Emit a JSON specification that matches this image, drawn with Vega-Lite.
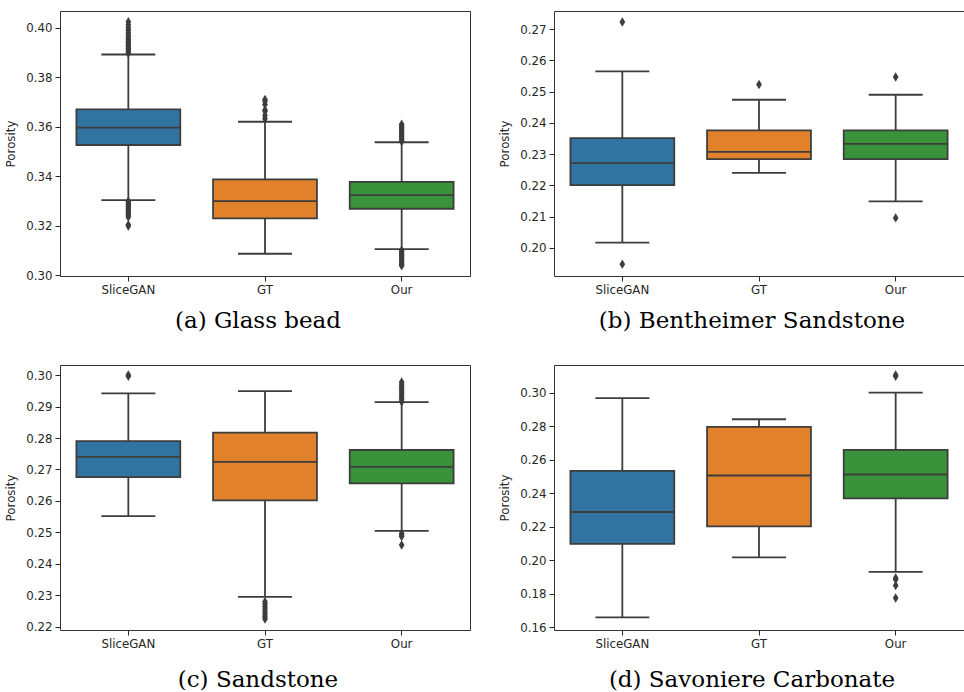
{
  "$schema": "https://vega.github.io/schema/vega-lite/v6.json",
  "padding": {"left": 5, "top": 10, "right": 0, "bottom": 0},
  "background": "white",
  "bounds": "flush",
  "columns": 2,
  "spacing": {"row": 89, "column": 84},
  "datasets": {
    "stats": [
      {"panel": "a", "method": "SliceGAN", "lower": 0.3303, "q1": 0.3526, "median": 0.3596, "q3": 0.3670, "upper": 0.3892},
      {"panel": "a", "method": "GT", "lower": 0.3086, "q1": 0.3229, "median": 0.3299, "q3": 0.3387, "upper": 0.3620},
      {"panel": "a", "method": "Our", "lower": 0.3105, "q1": 0.3268, "median": 0.3323, "q3": 0.3377, "upper": 0.3537},
      {"panel": "b", "method": "SliceGAN", "lower": 0.2017, "q1": 0.2201, "median": 0.2271, "q3": 0.2351, "upper": 0.2565},
      {"panel": "b", "method": "GT", "lower": 0.2240, "q1": 0.2284, "median": 0.2307, "q3": 0.2376, "upper": 0.2474},
      {"panel": "b", "method": "Our", "lower": 0.2149, "q1": 0.2284, "median": 0.2333, "q3": 0.2376, "upper": 0.2490},
      {"panel": "c", "method": "SliceGAN", "lower": 0.2552, "q1": 0.2676, "median": 0.2740, "q3": 0.2790, "upper": 0.2942},
      {"panel": "c", "method": "GT", "lower": 0.2295, "q1": 0.2602, "median": 0.2724, "q3": 0.2817, "upper": 0.2949},
      {"panel": "c", "method": "Our", "lower": 0.2505, "q1": 0.2656, "median": 0.2708, "q3": 0.2762, "upper": 0.2914},
      {"panel": "d", "method": "SliceGAN", "lower": 0.1660, "q1": 0.2099, "median": 0.2289, "q3": 0.2535, "upper": 0.2969},
      {"panel": "d", "method": "GT", "lower": 0.2018, "q1": 0.2203, "median": 0.2507, "q3": 0.2797, "upper": 0.2843},
      {"panel": "d", "method": "Our", "lower": 0.1931, "q1": 0.2370, "median": 0.2513, "q3": 0.2660, "upper": 0.3002}
    ],
    "out": [
      {"panel": "a", "method": "SliceGAN", "value": 0.3897},
      {"panel": "a", "method": "SliceGAN", "value": 0.3903},
      {"panel": "a", "method": "SliceGAN", "value": 0.3910},
      {"panel": "a", "method": "SliceGAN", "value": 0.3917},
      {"panel": "a", "method": "SliceGAN", "value": 0.3924},
      {"panel": "a", "method": "SliceGAN", "value": 0.3930},
      {"panel": "a", "method": "SliceGAN", "value": 0.3938},
      {"panel": "a", "method": "SliceGAN", "value": 0.3945},
      {"panel": "a", "method": "SliceGAN", "value": 0.3953},
      {"panel": "a", "method": "SliceGAN", "value": 0.3960},
      {"panel": "a", "method": "SliceGAN", "value": 0.3970},
      {"panel": "a", "method": "SliceGAN", "value": 0.3980},
      {"panel": "a", "method": "SliceGAN", "value": 0.3990},
      {"panel": "a", "method": "SliceGAN", "value": 0.4000},
      {"panel": "a", "method": "SliceGAN", "value": 0.4012},
      {"panel": "a", "method": "SliceGAN", "value": 0.4025},
      {"panel": "a", "method": "SliceGAN", "value": 0.3298},
      {"panel": "a", "method": "SliceGAN", "value": 0.3291},
      {"panel": "a", "method": "SliceGAN", "value": 0.3284},
      {"panel": "a", "method": "SliceGAN", "value": 0.3277},
      {"panel": "a", "method": "SliceGAN", "value": 0.3270},
      {"panel": "a", "method": "SliceGAN", "value": 0.3263},
      {"panel": "a", "method": "SliceGAN", "value": 0.3256},
      {"panel": "a", "method": "SliceGAN", "value": 0.3249},
      {"panel": "a", "method": "SliceGAN", "value": 0.3242},
      {"panel": "a", "method": "SliceGAN", "value": 0.3235},
      {"panel": "a", "method": "SliceGAN", "value": 0.3203},
      {"panel": "a", "method": "SliceGAN", "value": 0.3198},
      {"panel": "a", "method": "GT", "value": 0.3710},
      {"panel": "a", "method": "GT", "value": 0.3703},
      {"panel": "a", "method": "GT", "value": 0.3690},
      {"panel": "a", "method": "GT", "value": 0.3668},
      {"panel": "a", "method": "GT", "value": 0.3662},
      {"panel": "a", "method": "GT", "value": 0.3645},
      {"panel": "a", "method": "GT", "value": 0.3632},
      {"panel": "a", "method": "Our", "value": 0.3540},
      {"panel": "a", "method": "Our", "value": 0.3547},
      {"panel": "a", "method": "Our", "value": 0.3554},
      {"panel": "a", "method": "Our", "value": 0.3561},
      {"panel": "a", "method": "Our", "value": 0.3568},
      {"panel": "a", "method": "Our", "value": 0.3575},
      {"panel": "a", "method": "Our", "value": 0.3582},
      {"panel": "a", "method": "Our", "value": 0.3589},
      {"panel": "a", "method": "Our", "value": 0.3596},
      {"panel": "a", "method": "Our", "value": 0.3603},
      {"panel": "a", "method": "Our", "value": 0.3610},
      {"panel": "a", "method": "Our", "value": 0.3100},
      {"panel": "a", "method": "Our", "value": 0.3093},
      {"panel": "a", "method": "Our", "value": 0.3086},
      {"panel": "a", "method": "Our", "value": 0.3079},
      {"panel": "a", "method": "Our", "value": 0.3072},
      {"panel": "a", "method": "Our", "value": 0.3065},
      {"panel": "a", "method": "Our", "value": 0.3058},
      {"panel": "a", "method": "Our", "value": 0.3051},
      {"panel": "a", "method": "Our", "value": 0.3044},
      {"panel": "a", "method": "Our", "value": 0.3037},
      {"panel": "b", "method": "SliceGAN", "value": 0.2723},
      {"panel": "b", "method": "SliceGAN", "value": 0.1948},
      {"panel": "b", "method": "GT", "value": 0.2523},
      {"panel": "b", "method": "Our", "value": 0.2547},
      {"panel": "b", "method": "Our", "value": 0.2096},
      {"panel": "c", "method": "SliceGAN", "value": 0.2996},
      {"panel": "c", "method": "SliceGAN", "value": 0.3000},
      {"panel": "c", "method": "GT", "value": 0.2280},
      {"panel": "c", "method": "GT", "value": 0.2272},
      {"panel": "c", "method": "GT", "value": 0.2264},
      {"panel": "c", "method": "GT", "value": 0.2256},
      {"panel": "c", "method": "GT", "value": 0.2248},
      {"panel": "c", "method": "GT", "value": 0.2240},
      {"panel": "c", "method": "GT", "value": 0.2232},
      {"panel": "c", "method": "GT", "value": 0.2225},
      {"panel": "c", "method": "Our", "value": 0.2915},
      {"panel": "c", "method": "Our", "value": 0.2922},
      {"panel": "c", "method": "Our", "value": 0.2929},
      {"panel": "c", "method": "Our", "value": 0.2936},
      {"panel": "c", "method": "Our", "value": 0.2943},
      {"panel": "c", "method": "Our", "value": 0.2950},
      {"panel": "c", "method": "Our", "value": 0.2957},
      {"panel": "c", "method": "Our", "value": 0.2964},
      {"panel": "c", "method": "Our", "value": 0.2971},
      {"panel": "c", "method": "Our", "value": 0.2978},
      {"panel": "c", "method": "Our", "value": 0.2497},
      {"panel": "c", "method": "Our", "value": 0.2492},
      {"panel": "c", "method": "Our", "value": 0.2487},
      {"panel": "c", "method": "Our", "value": 0.2460},
      {"panel": "d", "method": "Our", "value": 0.3100},
      {"panel": "d", "method": "Our", "value": 0.3108},
      {"panel": "d", "method": "Our", "value": 0.1895},
      {"panel": "d", "method": "Our", "value": 0.1885},
      {"panel": "d", "method": "Our", "value": 0.1850},
      {"panel": "d", "method": "Our", "value": 0.1775}
    ]
  },
  "concat": [
    {
      "width": 410, "height": 265,
      "title": {"text": "(a) Glass bead"},
      "encoding": {
        "x": {"field": "method", "type": "nominal", "sort": ["SliceGAN", "GT", "Our"], "scale": {"paddingInner": 0, "paddingOuter": 0}, "axis": {"title": null, "labelAngle": 0}},
        "y": {"type": "quantitative", "scale": {"domain": [0.2996, 0.4068], "nice": false, "zero": false}, "axis": {"title": "Porosity", "values": [0.30, 0.32, 0.34, 0.36, 0.38, 0.40], "format": ".2f"}}
      },
      "layer": [
        {"data": {"name": "stats"}, "transform": [{"filter": "datum.panel == 'a'"}], "mark": {"type": "rule", "color": "#3d3d3d", "strokeWidth": 1.8}, "encoding": {"y": {"field": "lower"}, "y2": {"field": "upper"}}},
        {"data": {"name": "stats"}, "transform": [{"filter": "datum.panel == 'a'"}], "mark": {"type": "bar", "stroke": "#3d3d3d", "strokeWidth": 1.8, "width": {"band": 0.76}}, "encoding": {"y": {"field": "q1"}, "y2": {"field": "q3"}, "fill": {"field": "method", "type": "nominal", "scale": {"domain": ["SliceGAN", "GT", "Our"], "range": ["#3274a1", "#e1812c", "#3a923a"]}, "legend": null}}},
        {"data": {"name": "stats"}, "transform": [{"filter": "datum.panel == 'a'"}], "mark": {"type": "tick", "color": "#3d3d3d", "size": 104, "thickness": 1.8, "opacity": 1}, "encoding": {"y": {"field": "median"}}},
        {"data": {"name": "stats"}, "transform": [{"filter": "datum.panel == 'a'"}], "mark": {"type": "tick", "color": "#3d3d3d", "size": 54, "thickness": 1.8, "opacity": 1}, "encoding": {"y": {"field": "lower"}}},
        {"data": {"name": "stats"}, "transform": [{"filter": "datum.panel == 'a'"}], "mark": {"type": "tick", "color": "#3d3d3d", "size": 54, "thickness": 1.8, "opacity": 1}, "encoding": {"y": {"field": "upper"}}},
        {"data": {"name": "out"}, "transform": [{"filter": "datum.panel == 'a'"}], "mark": {"type": "point", "shape": "M0,-1L0.6,0L0,1L-0.6,0Z", "filled": true, "color": "#3d3d3d", "size": 90, "opacity": 1}, "encoding": {"y": {"field": "value"}}}
      ]
    },
    {
      "width": 410, "height": 265,
      "title": {"text": "(b) Bentheimer Sandstone"},
      "encoding": {
        "x": {"field": "method", "type": "nominal", "sort": ["SliceGAN", "GT", "Our"], "scale": {"paddingInner": 0, "paddingOuter": 0}, "axis": {"title": null, "labelAngle": 0}},
        "y": {"type": "quantitative", "scale": {"domain": [0.1910, 0.2758], "nice": false, "zero": false}, "axis": {"title": "Porosity", "values": [0.20, 0.21, 0.22, 0.23, 0.24, 0.25, 0.26, 0.27], "format": ".2f"}}
      },
      "layer": [
        {"data": {"name": "stats"}, "transform": [{"filter": "datum.panel == 'b'"}], "mark": {"type": "rule", "color": "#3d3d3d", "strokeWidth": 1.8}, "encoding": {"y": {"field": "lower"}, "y2": {"field": "upper"}}},
        {"data": {"name": "stats"}, "transform": [{"filter": "datum.panel == 'b'"}], "mark": {"type": "bar", "stroke": "#3d3d3d", "strokeWidth": 1.8, "width": {"band": 0.76}}, "encoding": {"y": {"field": "q1"}, "y2": {"field": "q3"}, "fill": {"field": "method", "type": "nominal", "scale": {"domain": ["SliceGAN", "GT", "Our"], "range": ["#3274a1", "#e1812c", "#3a923a"]}, "legend": null}}},
        {"data": {"name": "stats"}, "transform": [{"filter": "datum.panel == 'b'"}], "mark": {"type": "tick", "color": "#3d3d3d", "size": 104, "thickness": 1.8, "opacity": 1}, "encoding": {"y": {"field": "median"}}},
        {"data": {"name": "stats"}, "transform": [{"filter": "datum.panel == 'b'"}], "mark": {"type": "tick", "color": "#3d3d3d", "size": 54, "thickness": 1.8, "opacity": 1}, "encoding": {"y": {"field": "lower"}}},
        {"data": {"name": "stats"}, "transform": [{"filter": "datum.panel == 'b'"}], "mark": {"type": "tick", "color": "#3d3d3d", "size": 54, "thickness": 1.8, "opacity": 1}, "encoding": {"y": {"field": "upper"}}},
        {"data": {"name": "out"}, "transform": [{"filter": "datum.panel == 'b'"}], "mark": {"type": "point", "shape": "M0,-1L0.6,0L0,1L-0.6,0Z", "filled": true, "color": "#3d3d3d", "size": 90, "opacity": 1}, "encoding": {"y": {"field": "value"}}}
      ]
    },
    {
      "width": 410, "height": 265,
      "title": {"text": "(c) Sandstone", "offset": 19},
      "encoding": {
        "x": {"field": "method", "type": "nominal", "sort": ["SliceGAN", "GT", "Our"], "scale": {"paddingInner": 0, "paddingOuter": 0}, "axis": {"title": null, "labelAngle": 0}},
        "y": {"type": "quantitative", "scale": {"domain": [0.2190, 0.3032], "nice": false, "zero": false}, "axis": {"title": "Porosity", "values": [0.22, 0.23, 0.24, 0.25, 0.26, 0.27, 0.28, 0.29, 0.30], "format": ".2f"}}
      },
      "layer": [
        {"data": {"name": "stats"}, "transform": [{"filter": "datum.panel == 'c'"}], "mark": {"type": "rule", "color": "#3d3d3d", "strokeWidth": 1.8}, "encoding": {"y": {"field": "lower"}, "y2": {"field": "upper"}}},
        {"data": {"name": "stats"}, "transform": [{"filter": "datum.panel == 'c'"}], "mark": {"type": "bar", "stroke": "#3d3d3d", "strokeWidth": 1.8, "width": {"band": 0.76}}, "encoding": {"y": {"field": "q1"}, "y2": {"field": "q3"}, "fill": {"field": "method", "type": "nominal", "scale": {"domain": ["SliceGAN", "GT", "Our"], "range": ["#3274a1", "#e1812c", "#3a923a"]}, "legend": null}}},
        {"data": {"name": "stats"}, "transform": [{"filter": "datum.panel == 'c'"}], "mark": {"type": "tick", "color": "#3d3d3d", "size": 104, "thickness": 1.8, "opacity": 1}, "encoding": {"y": {"field": "median"}}},
        {"data": {"name": "stats"}, "transform": [{"filter": "datum.panel == 'c'"}], "mark": {"type": "tick", "color": "#3d3d3d", "size": 54, "thickness": 1.8, "opacity": 1}, "encoding": {"y": {"field": "lower"}}},
        {"data": {"name": "stats"}, "transform": [{"filter": "datum.panel == 'c'"}], "mark": {"type": "tick", "color": "#3d3d3d", "size": 54, "thickness": 1.8, "opacity": 1}, "encoding": {"y": {"field": "upper"}}},
        {"data": {"name": "out"}, "transform": [{"filter": "datum.panel == 'c'"}], "mark": {"type": "point", "shape": "M0,-1L0.6,0L0,1L-0.6,0Z", "filled": true, "color": "#3d3d3d", "size": 90, "opacity": 1}, "encoding": {"y": {"field": "value"}}}
      ]
    },
    {
      "width": 410, "height": 265,
      "title": {"text": "(d) Savoniere Carbonate", "offset": 19},
      "encoding": {
        "x": {"field": "method", "type": "nominal", "sort": ["SliceGAN", "GT", "Our"], "scale": {"paddingInner": 0, "paddingOuter": 0}, "axis": {"title": null, "labelAngle": 0}},
        "y": {"type": "quantitative", "scale": {"domain": [0.1584, 0.3167], "nice": false, "zero": false}, "axis": {"title": "Porosity", "values": [0.16, 0.18, 0.20, 0.22, 0.24, 0.26, 0.28, 0.30], "format": ".2f"}}
      },
      "layer": [
        {"data": {"name": "stats"}, "transform": [{"filter": "datum.panel == 'd'"}], "mark": {"type": "rule", "color": "#3d3d3d", "strokeWidth": 1.8}, "encoding": {"y": {"field": "lower"}, "y2": {"field": "upper"}}},
        {"data": {"name": "stats"}, "transform": [{"filter": "datum.panel == 'd'"}], "mark": {"type": "bar", "stroke": "#3d3d3d", "strokeWidth": 1.8, "width": {"band": 0.76}}, "encoding": {"y": {"field": "q1"}, "y2": {"field": "q3"}, "fill": {"field": "method", "type": "nominal", "scale": {"domain": ["SliceGAN", "GT", "Our"], "range": ["#3274a1", "#e1812c", "#3a923a"]}, "legend": null}}},
        {"data": {"name": "stats"}, "transform": [{"filter": "datum.panel == 'd'"}], "mark": {"type": "tick", "color": "#3d3d3d", "size": 104, "thickness": 1.8, "opacity": 1}, "encoding": {"y": {"field": "median"}}},
        {"data": {"name": "stats"}, "transform": [{"filter": "datum.panel == 'd'"}], "mark": {"type": "tick", "color": "#3d3d3d", "size": 54, "thickness": 1.8, "opacity": 1}, "encoding": {"y": {"field": "lower"}}},
        {"data": {"name": "stats"}, "transform": [{"filter": "datum.panel == 'd'"}], "mark": {"type": "tick", "color": "#3d3d3d", "size": 54, "thickness": 1.8, "opacity": 1}, "encoding": {"y": {"field": "upper"}}},
        {"data": {"name": "out"}, "transform": [{"filter": "datum.panel == 'd'"}], "mark": {"type": "point", "shape": "M0,-1L0.6,0L0,1L-0.6,0Z", "filled": true, "color": "#3d3d3d", "size": 90, "opacity": 1}, "encoding": {"y": {"field": "value"}}}
      ]
    }
  ],
  "resolve": {"scale": {"y": "independent", "x": "independent", "fill": "independent"}},
  "config": {
    "view": {"stroke": "#333333", "strokeWidth": 1},
    "axis": {
      "domain": false, "grid": false,
      "labelFont": "DejaVu Sans", "labelFontSize": 11.8, "labelColor": "#262626",
      "tickColor": "#262626", "tickSize": 5, "tickWidth": 1, "labelPadding": 3,
      "titleFont": "DejaVu Sans", "titleFontSize": 11.8, "titleFontWeight": "normal", "titleColor": "#262626", "titlePadding": 9
    },
    "axisX": {"labelPadding": 3},
    "title": {"orient": "bottom", "anchor": "middle", "font": "DejaVu Serif", "fontSize": 23, "fontWeight": "normal", "color": "#000000", "offset": 14, "dx": -7}
  }
}
